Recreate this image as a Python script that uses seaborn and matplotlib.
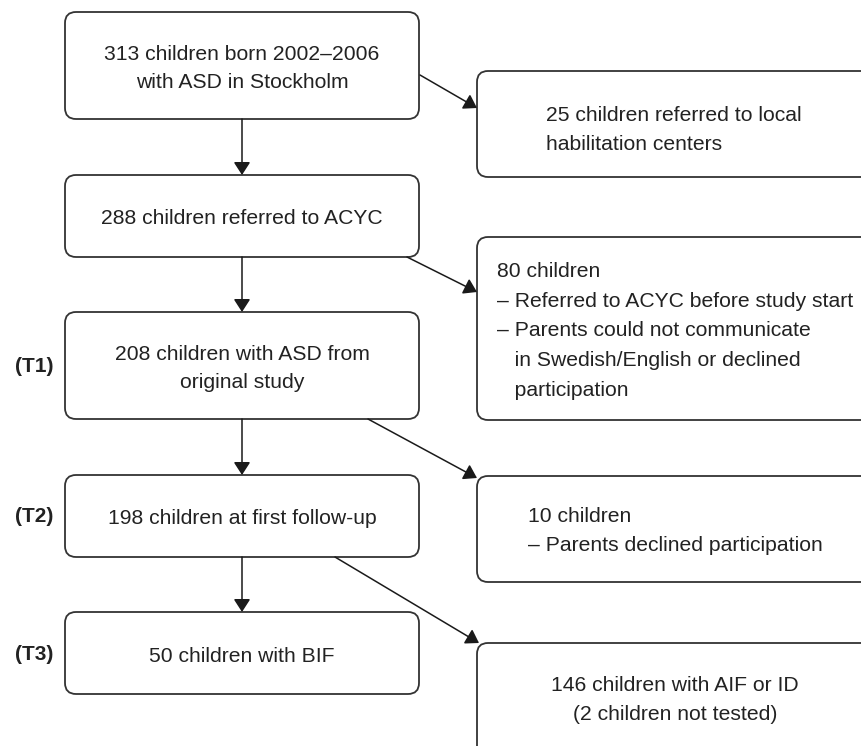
import matplotlib
matplotlib.use("Agg")
import matplotlib.pyplot as plt
from matplotlib.patches import FancyBboxPatch
import seaborn as sns

# flow chart texts
main_steps = [
    "313 children born 2002\u20132006\nwith ASD in Stockholm",
    "288 children referred to ACYC",
    "208 children with ASD from\noriginal study",
    "198 children at first follow-up",
    "50 children with BIF",
]
step_labels = ["", "", "(T1)", "(T2)", "(T3)"]
side_steps = [
    "25 children referred to local\nhabilitation centers",
    "80 children\n\u2013 Referred to ACYC before study start\n\u2013 Parents could not communicate\n   in Swedish/English or declined\n   participation",
    "10 children\n\u2013 Parents declined participation",
    "146 children with AIF or ID\n(2 children not tested)",
]

sns.set_style("white")
plt.rcParams['font.family'] = ['Liberation Sans', 'DejaVu Sans']

fig = plt.figure(figsize=(8.61, 7.46), dpi=100)
ax = fig.add_axes([0, 0, 1, 1])
ax.set_xlim(0, 861)
ax.set_ylim(746, 0)
ax.axis("off")

edge = "#333333"
txt = "#222222"
fs = 15.2
ls = 1.66

# layout in pixels (top, bottom) for left column boxes
left_x0, left_x1 = 65, 419
left_rows = [(12, 119), (175, 257), (312, 419), (475, 557), (612, 694)]
# right column boxes (top, bottom), running off the canvas on the right
right_x0, right_x1 = 477, 900
right_rows = [(71, 177), (237, 420), (476, 582), (643, 770)]

def box(x0, y0, x1, y1):
    p = FancyBboxPatch((x0, y0), x1 - x0, y1 - y0,
                       boxstyle="round,pad=0,rounding_size=11",
                       fc="white", ec=edge, lw=1.3, zorder=2)
    ax.add_patch(p)

def arrow(start, end):
    ax.annotate("", xy=end, xytext=start,
                arrowprops=dict(arrowstyle="-|>,head_length=0.65,head_width=0.42",
                                mutation_scale=12, lw=1.1, color="#1a1a1a",
                                shrinkA=0, shrinkB=0),
                zorder=3)

cx = (left_x0 + left_x1) / 2
for (y0, y1), t, lab in zip(left_rows, main_steps, step_labels):
    box(left_x0, y0, left_x1, y1)
    ax.text(cx, (y0 + y1) / 2 + 3, t, ha="center", va="center",
            fontsize=fs, color=txt, linespacing=ls, zorder=4)
    if lab:
        ax.text(34, (y0 + y1) / 2 + 1, lab, ha="center", va="center",
                fontsize=15, fontweight="bold", color=txt, zorder=4)

for y0, y1 in right_rows:
    box(right_x0, y0, right_x1, y1)

# right column texts
ax.text(546, 130, side_steps[0], ha="left", va="center", fontsize=fs,
        color=txt, linespacing=ls, zorder=4)
ax.text(497, 331, side_steps[1], ha="left", va="center", fontsize=fs,
        color=txt, linespacing=ls + 0.06, zorder=4)
ax.text(528, 531, side_steps[2], ha="left", va="center", fontsize=fs,
        color=txt, linespacing=ls, zorder=4)
ax.text(675, 700, side_steps[3], ha="center", va="center", fontsize=fs,
        color=txt, linespacing=ls, zorder=4)

# vertical arrows
for (a0, a1), (b0, b1) in zip(left_rows[:-1], left_rows[1:]):
    arrow((cx, a1), (cx, b0))

# diagonal arrows to exclusion boxes
arrow((420, 75), (477, 108))
arrow((407, 257), (477, 292))
arrow((368, 419), (477, 478))
arrow((335, 557), (479, 643))

fig.savefig("out.png", dpi=100)
